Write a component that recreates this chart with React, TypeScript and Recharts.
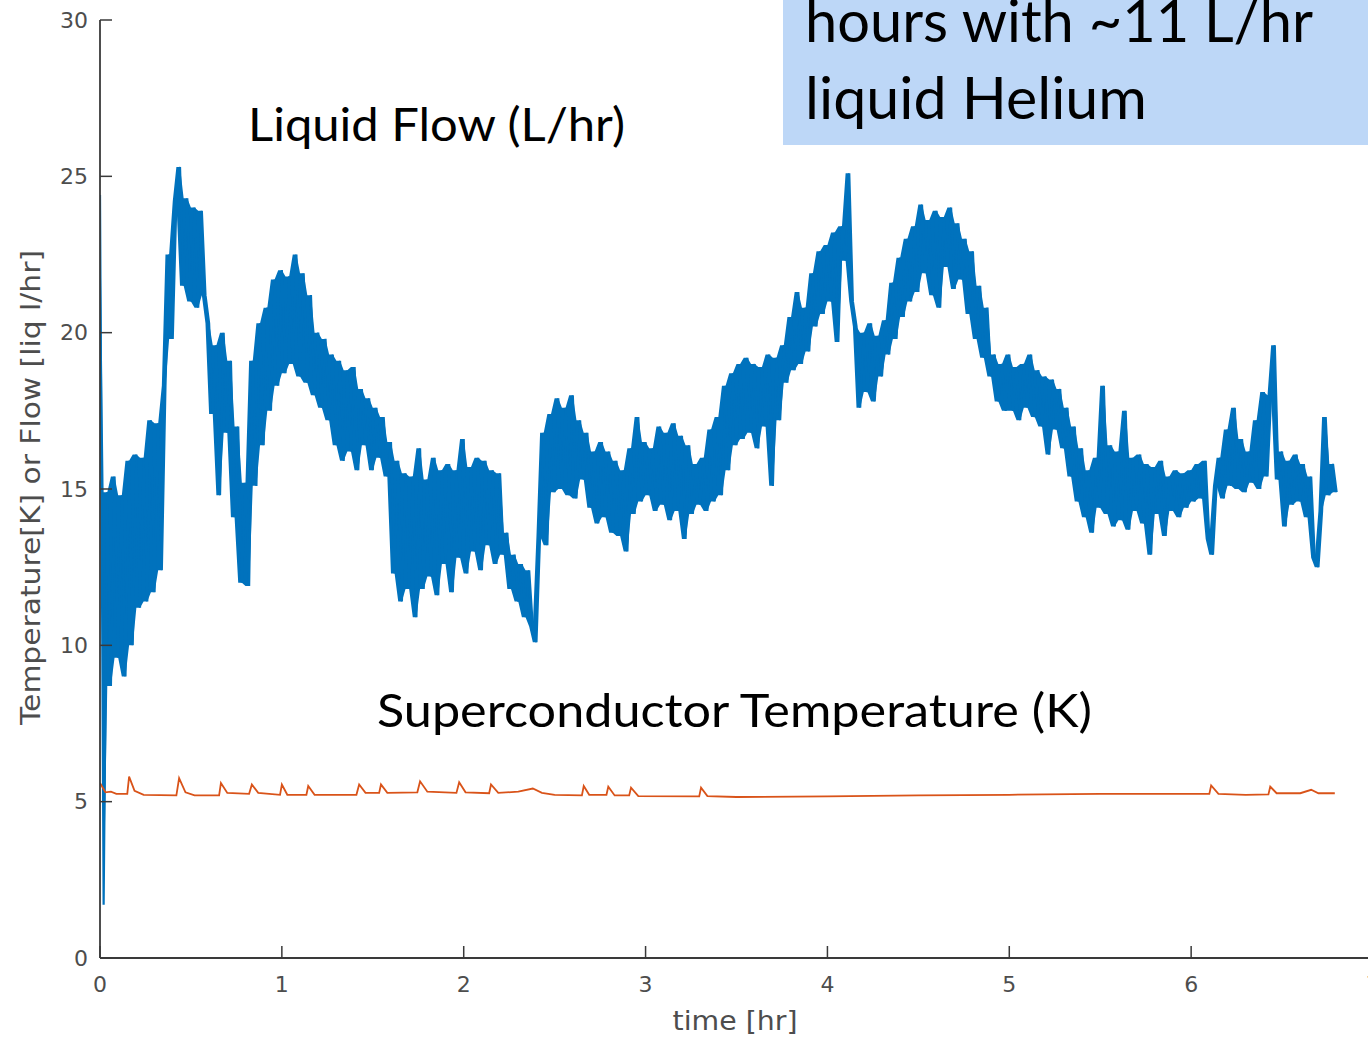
import React from 'react'
import { ComposedChart, Line, Area, XAxis, YAxis } from 'recharts'

const BLUE = '#0072BD'
const ORANGE = '#D95319'
const AXIS = '#3a3a3a'
const TICK_TEXT = '#4d4d4d'

// liquid He flow, sampled every FLOW_STEP hours [L/hr]
const FLOW_STEP = 0.02
const flowValues = [
  24.4, 1.7, 14.9, 8.7, 15.4, 9.6, 14.8, 9.0, 15.9, 10.0,
  16.1, 11.2, 16.0, 11.4, 17.2, 11.7, 17.1, 12.4, 18.3, 22.5,
  19.8, 24.2, 25.3, 21.5, 24.3, 21.0, 24.0, 20.8, 23.9, 21.2,
  20.3, 17.4, 19.6, 14.8, 20.0, 16.8, 19.1, 14.1, 17.0, 12.0,
  15.2, 11.9, 19.1, 15.1, 20.3, 16.4, 20.8, 17.5, 21.7, 18.3,
  22.0, 18.7, 21.8, 19.0, 22.5, 18.6, 21.9, 18.4, 21.2, 18.0,
  20.0, 17.6, 19.8, 17.2, 19.3, 16.4, 19.1, 15.9, 18.8, 16.2,
  18.9, 15.6, 18.2, 16.4, 17.9, 15.6, 17.6, 16.0, 17.3, 15.4,
  16.5, 12.3, 15.9, 11.4, 15.5, 11.8, 15.4, 10.9, 16.3, 11.8,
  15.3, 12.2, 16.0, 11.6, 15.6, 12.6, 15.8, 11.7, 15.6, 12.8,
  16.6, 12.3, 15.7, 13.0, 16.0, 12.4, 15.9, 13.2, 15.6, 12.6,
  15.5, 12.9, 13.6, 11.8, 12.9, 11.4, 12.6, 10.9, 12.4, 10.6,
  10.1, 13.5, 16.8, 13.2, 17.4, 14.9, 17.9, 15.0, 17.6, 14.8,
  18.0, 14.7, 17.2, 15.3, 16.8, 14.4, 16.2, 13.9, 16.5, 14.1,
  16.2, 13.6, 15.9, 13.5, 15.6, 13.0, 16.3, 14.2, 17.3, 14.6,
  16.5, 14.8, 16.3, 14.3, 17.0, 14.5, 16.8, 14.0, 17.1, 14.3,
  16.7, 13.4, 16.4, 14.2, 15.8, 14.5, 16.0, 14.3, 16.9, 14.6,
  17.3, 14.8, 18.3, 15.6, 18.7, 16.4, 19.0, 16.6, 19.2, 16.8,
  19.0, 16.3, 18.9, 17.0, 19.3, 15.1, 19.2, 17.2, 19.6, 18.4,
  20.5, 18.8, 21.3, 19.0, 20.8, 19.4, 21.9, 20.2, 22.6, 20.6,
  22.8, 21.0, 23.2, 19.7, 23.4, 22.3, 25.1, 21.0, 20.2, 17.6,
  20.0, 18.1, 20.3, 17.8, 19.9, 18.6, 20.4, 19.3, 21.6, 19.8,
  22.4, 20.5, 23.0, 21.0, 23.4, 21.3, 24.1, 21.9, 23.6, 21.2,
  23.9, 20.8, 23.7, 22.1, 24.0, 21.4, 23.5, 21.7, 23.0, 20.6,
  22.6, 19.8, 21.5, 19.2, 20.8, 18.6, 19.3, 17.8, 19.0, 17.5,
  19.3, 17.5, 18.9, 17.2, 19.0, 17.6, 19.3, 17.3, 18.8, 17.0,
  18.6, 16.1, 18.5, 16.9, 18.2, 16.3, 17.6, 15.4, 17.0, 14.6,
  16.3, 14.1, 15.6, 13.6, 16.0, 14.4, 18.3, 14.2, 16.4, 13.8,
  16.2, 14.0, 17.5, 13.7, 16.0, 14.3, 16.1, 13.9, 15.8, 12.9,
  15.7, 14.2, 15.9, 13.5, 15.4, 14.3, 15.6, 14.1, 15.5, 14.4,
  15.6, 14.6, 15.8, 14.7, 15.9, 13.4, 12.9, 15.1, 16.0, 14.7,
  16.9, 15.1, 17.6, 15.0, 16.6, 14.9, 16.2, 15.2, 17.2, 15.0,
  18.1, 15.4, 18.0, 19.6, 15.3, 16.2, 13.8, 15.9, 14.5, 16.1,
  14.6, 15.8, 14.1, 15.4, 12.8, 12.5, 14.3, 17.3, 14.8, 15.8,
  14.9,
]

// superconductor temperature [K]
const tempTimes = [
  0, 0.03, 0.06, 0.09, 0.15, 0.16, 0.19, 0.24, 0.42, 0.435, 0.47, 0.52,
  0.655, 0.665, 0.7, 0.82, 0.835, 0.87, 0.99, 1.0, 1.03, 1.135, 1.145, 1.18,
  1.41, 1.425, 1.46, 1.535, 1.545, 1.58, 1.745, 1.76, 1.8, 1.96, 1.975, 2.01,
  2.14, 2.15, 2.19, 2.3, 2.38, 2.43, 2.5, 2.65, 2.66, 2.69, 2.785, 2.795, 2.83,
  2.91, 2.92, 2.96, 3.295, 3.305, 3.34, 3.5, 4.0, 4.5, 5.0, 5.5, 6.1, 6.11,
  6.15, 6.3, 6.425, 6.435, 6.47, 6.6, 6.66, 6.7, 6.79,
]
const tempValues = [
  5.6, 5.3, 5.32, 5.25, 5.25, 5.8, 5.35, 5.22, 5.2, 5.75, 5.3, 5.2,
  5.2, 5.6, 5.28, 5.25, 5.55, 5.28, 5.22, 5.55, 5.22, 5.22, 5.5, 5.22,
  5.22, 5.55, 5.28, 5.28, 5.55, 5.28, 5.3, 5.65, 5.32, 5.28, 5.62, 5.3,
  5.27, 5.55, 5.28, 5.32, 5.42, 5.28, 5.22, 5.2, 5.5, 5.22, 5.22, 5.48, 5.2,
  5.2, 5.45, 5.18, 5.17, 5.45, 5.18, 5.15, 5.17, 5.2, 5.22, 5.25, 5.25, 5.52,
  5.25, 5.22, 5.23, 5.48, 5.27, 5.27, 5.38, 5.27, 5.27,
]

const xTicks = [0, 1, 2, 3, 4, 5, 6, 7]
const yTicks = [0, 5, 10, 15, 20, 25, 30]

// each flow sample plus the span to its neighbour, so the noisy trace reads as a solid band
const flowData = flowValues.map((v, i) => {
  const next = flowValues[i + 1] ?? v
  return { t: +(i * FLOW_STEP).toFixed(3), v, span: i === 0 ? [v, v] : [Math.min(v, next), Math.max(v, next)] }
})
const tempData = tempTimes.map((t, i) => ({ t, v: tempValues[i] }))

const tickFont = { fontSize: 22, fill: TICK_TEXT, fontFamily: 'DejaVu Sans' }
const axisLine = { stroke: AXIS, strokeWidth: 1.8 }
const tickLine = { stroke: AXIS, strokeWidth: 1.5 }

export default function App() {
  return (
    <div style={{ position: 'absolute', left: 0, top: 0, width: 1368, height: 1037, overflow: 'hidden', background: '#fff' }}>
      <ComposedChart width={1400} height={1037} margin={{ top: 20, right: 0, bottom: 0, left: 0 }}>
        <XAxis
          xAxisId="b"
          dataKey="t"
          type="number"
          domain={[0, 7]}
          ticks={xTicks}
          allowDataOverflow
          height={79}
          tickSize={-12}
          tickMargin={30}
          tick={tickFont}
          axisLine={axisLine}
          tickLine={tickLine}
        />
        <XAxis
          xAxisId="t"
          orientation="top"
          type="number"
          domain={[0, 7]}
          ticks={xTicks}
          allowDataOverflow
          height={0}
          tickSize={-12}
          tick={false}
          axisLine={axisLine}
          tickLine={tickLine}
        />
        <YAxis
          yAxisId="l"
          type="number"
          domain={[0, 30]}
          ticks={yTicks}
          allowDataOverflow
          width={100}
          tickSize={-12}
          tickMargin={24}
          tick={tickFont}
          axisLine={axisLine}
          tickLine={tickLine}
        />
        <YAxis
          yAxisId="r"
          orientation="right"
          type="number"
          domain={[0, 30]}
          ticks={yTicks}
          allowDataOverflow
          width={27}
          tickSize={-12}
          tick={false}
          axisLine={axisLine}
          tickLine={tickLine}
        />
        <Area
          xAxisId="b"
          yAxisId="l"
          data={flowData}
          dataKey="span"
          type="linear"
          stroke="none"
          fill={BLUE}
          fillOpacity={1}
          dot={false}
          activeDot={false}
          isAnimationActive={false}
        />
        <Line
          xAxisId="b"
          yAxisId="l"
          data={flowData}
          dataKey="v"
          type="linear"
          stroke={BLUE}
          strokeWidth={2.2}
          dot={false}
          activeDot={false}
          isAnimationActive={false}
        />
        <Line
          xAxisId="b"
          yAxisId="l"
          data={tempData}
          dataKey="v"
          type="linear"
          stroke={ORANGE}
          strokeWidth={1.8}
          dot={false}
          activeDot={false}
          isAnimationActive={false}
        />
      </ComposedChart>

      <svg width={1368} height={1037} style={{ position: 'absolute', left: 0, top: 0, pointerEvents: 'none' }}>
        <text
          transform="translate(40 487.5) rotate(-90)"
          textAnchor="middle"
          fontFamily="DejaVu Sans"
          fontSize={27}
          fill={TICK_TEXT}
          textLength={475}
          lengthAdjust="spacingAndGlyphs"
        >
          Temperature[K] or Flow [liq l/hr]
        </text>
        <text x={735} y={1030} textAnchor="middle" fontFamily="DejaVu Sans" fontSize={26} fill={TICK_TEXT}
          textLength={125} lengthAdjust="spacingAndGlyphs">
          time [hr]
        </text>

        <text x={248} y={141} fontFamily="Lato" fontSize={47} fill="#000" textLength={377} lengthAdjust="spacingAndGlyphs">
          Liquid Flow (L/hr)
        </text>
        <text x={377} y={727} fontFamily="Lato" fontSize={47} fill="#000" textLength={715} lengthAdjust="spacingAndGlyphs">
          Superconductor Temperature (K)
        </text>

        <rect x={783} y={0} width={590} height={145} fill="#BDD7F7" />
        <text x={805} y={42} fontFamily="Lato" fontSize={58} fill="#000" textLength={508} lengthAdjust="spacingAndGlyphs">
          hours with ~11 L/hr
        </text>
        <text x={805} y={119} fontFamily="Lato" fontSize={58} fill="#000" textLength={342} lengthAdjust="spacingAndGlyphs">
          liquid Helium
        </text>
      </svg>
    </div>
  )
}
